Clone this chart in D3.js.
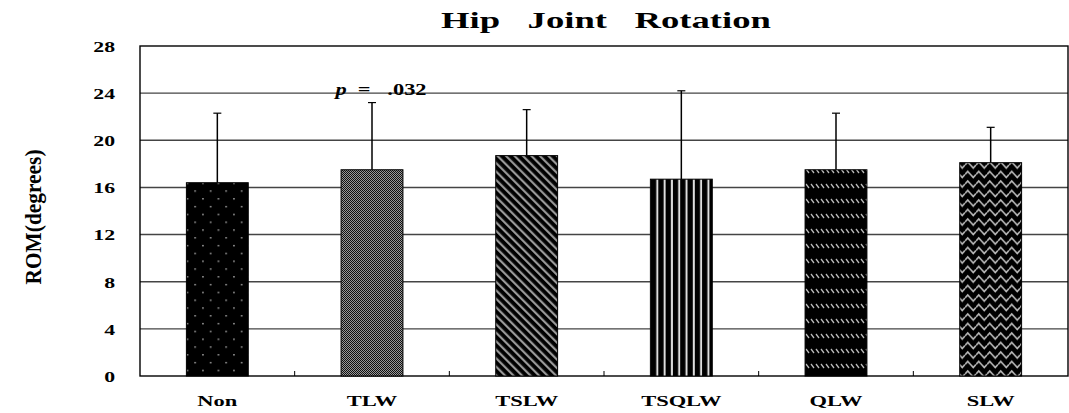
<!DOCTYPE html>
<html>
<head>
<meta charset="utf-8">
<script src="https://cdn.jsdelivr.net/npm/d3@7"></script>
<style>
  body { margin: 0; background: #fff; }
  svg text { font-family: "Liberation Serif", "DejaVu Serif", serif; font-weight: bold; fill: #000; }
</style>
</head>
<body>
<script>
// Dados do grafico
const categories = ["Non", "TLW", "TSLW", "TSQLW", "QLW", "SLW"];
const means = [16.4, 17.5, 18.7, 16.7, 17.5, 18.1];
const errTops = [22.3, 23.2, 22.6, 24.2, 22.3, 21.1];
const yTicks = [0, 4, 8, 12, 16, 20, 24, 28];
const patterns = ["pDots", "pCheck", "pDiag", "pVert", "pDash", "pWave"];

// Dimensoes
const W = 1069, H = 413;
const margin = {top: 46, right: 1, bottom: 37, left: 140};
const width = W - margin.left - margin.right,
      height = H - margin.top - margin.bottom;
const stretch = 1.45; // texto mais largo que o normal

const svg = d3.select("body").append("svg")
  .attr("width", W)
  .attr("height", H);

// Padroes de preenchimento
const defs = svg.append("defs");

// pontos brancos sobre preto
let p = defs.append("pattern").attr("id", "pDots").attr("patternUnits", "userSpaceOnUse")
  .attr("width", 15.5).attr("height", 15.6);
p.append("rect").attr("width", 15.5).attr("height", 15.6).attr("fill", "#000");
p.append("rect").attr("x", 8).attr("y", 4).attr("width", 1.3).attr("height", 1.3).attr("fill", "#ddd");
p.append("rect").attr("x", 0.3).attr("y", 11.8).attr("width", 1.3).attr("height", 1.3).attr("fill", "#ddd");

// xadrez fino
p = defs.append("pattern").attr("id", "pCheck").attr("patternUnits", "userSpaceOnUse")
  .attr("width", 2).attr("height", 2);
p.append("rect").attr("width", 2).attr("height", 2).attr("fill", "#999");
p.append("rect").attr("width", 1).attr("height", 1).attr("fill", "#111");
p.append("rect").attr("x", 1).attr("y", 1).attr("width", 1).attr("height", 1).attr("fill", "#111");

// diagonais
p = defs.append("pattern").attr("id", "pDiag").attr("patternUnits", "userSpaceOnUse")
  .attr("width", 6).attr("height", 6).attr("patternTransform", "rotate(-45)");
p.append("rect").attr("width", 6).attr("height", 6).attr("fill", "#000");
p.append("rect").attr("width", 2.2).attr("height", 6).attr("fill", "#999");

// verticais
p = defs.append("pattern").attr("id", "pVert").attr("patternUnits", "userSpaceOnUse")
  .attr("width", 7.3).attr("height", 4);
p.append("rect").attr("width", 7.3).attr("height", 4).attr("fill", "#000");
p.append("rect").attr("x", 5.3).attr("width", 2).attr("height", 4).attr("fill", "#ddd");

// tracos diagonais em linhas
p = defs.append("pattern").attr("id", "pDash").attr("patternUnits", "userSpaceOnUse")
  .attr("width", 5).attr("height", 15);
p.append("rect").attr("width", 5).attr("height", 15).attr("fill", "#000");
p.append("path").attr("d", "M1,3 L4,7").attr("stroke", "#bbb").attr("stroke-width", 1.3);

// ondas
p = defs.append("pattern").attr("id", "pWave").attr("patternUnits", "userSpaceOnUse")
  .attr("width", 11).attr("height", 9.5);
p.append("rect").attr("width", 11).attr("height", 9.5).attr("fill", "#000");
p.append("path").attr("d", "M0,5 L2.75,2 L5.5,5 L8.25,8 L11,5").attr("fill", "none")
  .attr("stroke", "#bbb").attr("stroke-width", 1.6);

const g = svg.append("g")
  .attr("transform", "translate(" + margin.left + "," + margin.top + ")");

// Escalas
const x = d3.scaleBand().domain(categories).range([0, width]).paddingInner(0.6).paddingOuter(0.3);
const xb = d3.scaleBand().domain(categories).range([0, width]);
const y = d3.scaleLinear().domain([0, 28]).range([height, 0]);

// grade
g.selectAll(".grid")
  .data(yTicks.slice(1, -1))
  .enter().append("line")
  .attr("x1", 0).attr("x2", width)
  .attr("y1", d => y(d)).attr("y2", d => y(d))
  .attr("stroke", "#444").attr("stroke-width", 1.4);

// moldura
g.append("rect").attr("width", width).attr("height", height)
  .attr("fill", "none").attr("stroke", "#000").attr("stroke-width", 1.4);

// barras de erro
g.selectAll(".err")
  .data(categories)
  .enter().append("line")
  .attr("x1", d => x(d) + x.bandwidth() / 2).attr("x2", d => x(d) + x.bandwidth() / 2)
  .attr("y1", (d, i) => y(means[i])).attr("y2", (d, i) => y(errTops[i]))
  .attr("stroke", "#000").attr("stroke-width", 1.5);
g.selectAll(".cap")
  .data(categories)
  .enter().append("line")
  .attr("x1", d => x(d) + x.bandwidth() / 2 - 4).attr("x2", d => x(d) + x.bandwidth() / 2 + 4)
  .attr("y1", (d, i) => y(errTops[i])).attr("y2", (d, i) => y(errTops[i]))
  .attr("stroke", "#000").attr("stroke-width", 1.2);

// barras
g.selectAll(".bar")
  .data(categories)
  .enter().append("rect")
  .attr("x", d => x(d))
  .attr("y", (d, i) => y(means[i]))
  .attr("width", x.bandwidth())
  .attr("height", (d, i) => height - y(means[i]))
  .attr("fill", (d, i) => "url(#" + patterns[i] + ")")
  .attr("stroke", "#000").attr("stroke-width", 1);

// alarga o texto na horizontal
function widen(sel, k) {
  sel.each(function () {
    const len = this.getComputedTextLength();
    d3.select(this).attr("textLength", len * k).attr("lengthAdjust", "spacingAndGlyphs");
  });
}

// eixo y
const yAxis = g.append("g")
  .call(d3.axisLeft(y).tickValues(yTicks).tickSize(0).tickPadding(25));
yAxis.select(".domain").remove();
yAxis.attr("font-family", null);
yAxis.selectAll("text").style("font-size", "15px").attr("dy", "0.36em");
widen(yAxis.selectAll("text"), stretch);

// eixo x
const xAxis = g.append("g")
  .attr("transform", "translate(0," + height + ")")
  .call(d3.axisBottom(xb).tickSize(0).tickPadding(19));
xAxis.select(".domain").remove();
xAxis.attr("font-family", null);
xAxis.selectAll("text").style("font-size", "15.5px");
widen(xAxis.selectAll("text"), stretch);
g.selectAll(".xtick")
  .data(categories.slice(1))
  .enter().append("line")
  .attr("x1", d => xb(d)).attr("x2", d => xb(d))
  .attr("y1", height).attr("y2", height - 5)
  .attr("stroke", "#000");

// titulo
const title = svg.append("text")
  .attr("x", 606).attr("y", 28)
  .attr("text-anchor", "middle")
  .style("font-size", "23px")
  .style("white-space", "pre")
  .text("Hip   Joint   Rotation");
title.attr("textLength", 330).attr("lengthAdjust", "spacingAndGlyphs");

// rotulo y
svg.append("text")
  .attr("transform", "translate(41,217) rotate(-90)")
  .attr("text-anchor", "middle")
  .attr("textLength", 135).attr("lengthAdjust", "spacingAndGlyphs")
  .style("font-size", "24px")
  .text("ROM(degrees)");

// anotacao p
const ann = svg.append("text")
  .attr("x", 381).attr("y", 95)
  .attr("text-anchor", "middle")
  .style("font-size", "16px")
  .style("white-space", "pre");
ann.append("tspan").style("font-style", "italic").text("p");
ann.append("tspan").text("  =   .032");
widen(ann, 1.4);
</script>
</body>
</html>
